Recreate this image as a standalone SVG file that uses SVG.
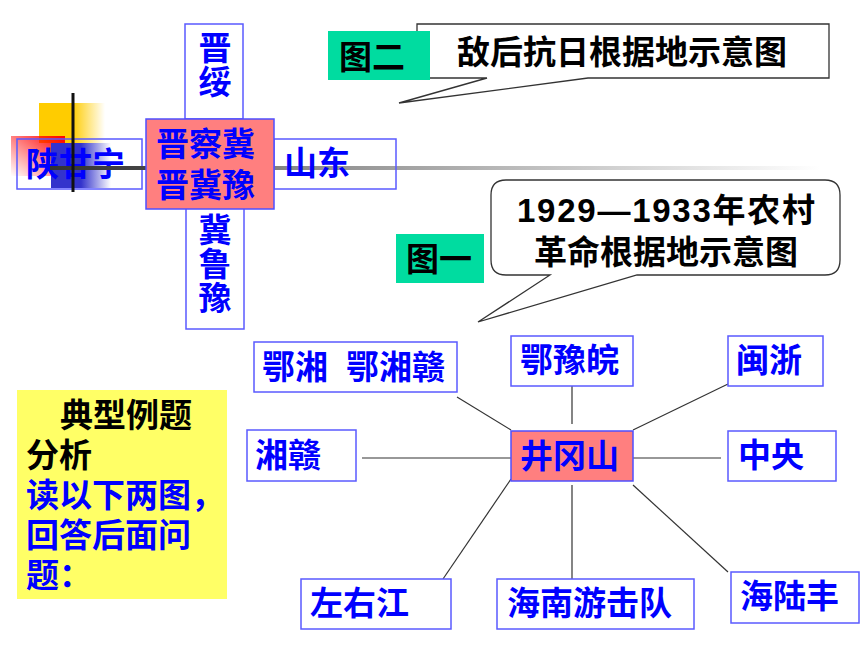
<svg xmlns="http://www.w3.org/2000/svg" width="860" height="645" viewBox="0 0 860 645">
<style>
.box{fill:none;stroke:#5a5aff;stroke-width:1.5}
.bw{fill:#ffffff;stroke:#5a5aff;stroke-width:1.5}
.hot{fill:#ff7f7f;stroke:#4f4fff;stroke-width:1.5}
.t{font-family:"Liberation Sans","Noto Sans CJK SC",sans-serif;font-weight:bold;font-size:33px;fill:#0000ff}
.k{font-family:"Liberation Sans","Noto Sans CJK SC",sans-serif;font-weight:bold;font-size:33px;fill:#000000}
.vt{text-anchor:middle}
.tag{fill:#00dca0}
.con{stroke:#333333;stroke-width:1.2;fill:none}
.call{fill:#ffffff;stroke:#333333;stroke-width:1.3}
</style>
<defs>
<linearGradient id="gy" x1="0" y1="0" x2="1" y2="0">
<stop offset="0" stop-color="#ffcc00"/><stop offset="0.5" stop-color="#ffcc00"/><stop offset="1" stop-color="#ffcc00" stop-opacity="0"/>
</linearGradient>
<linearGradient id="gr" x1="1" y1="0" x2="0" y2="1">
<stop offset="0" stop-color="#ff0000"/><stop offset="1" stop-color="#ff0000" stop-opacity="0"/>
</linearGradient>
<linearGradient id="gb" x1="0" y1="0" x2="1" y2="0">
<stop offset="0" stop-color="#3333cc"/><stop offset="0.5" stop-color="#3333cc"/><stop offset="1" stop-color="#3333cc" stop-opacity="0"/>
</linearGradient>
<linearGradient id="gl" gradientUnits="userSpaceOnUse" x1="50" y1="0" x2="820" y2="0">
<stop offset="0" stop-color="#333333"/><stop offset="0.12" stop-color="#444444"/><stop offset="0.32" stop-color="#8a8a8a"/><stop offset="1" stop-color="#ffffff"/>
</linearGradient>
</defs>

<g id="decor">
<rect x="39" y="103" width="66" height="40" fill="url(#gy)"/>
<rect x="11" y="136" width="54" height="40" fill="url(#gr)"/>
<rect x="51" y="143" width="60" height="45" fill="url(#gb)"/>
</g>

<g id="n-shaanganning">
<rect class="box" x="17" y="139" width="125" height="50"/>
<text class="t" x="26" y="176">陕甘宁</text>
</g>

<g id="decor-lines">
<line x1="50" y1="168" x2="820" y2="168" stroke="url(#gl)" stroke-width="4"/>
<line x1="73" y1="93" x2="73" y2="192" stroke="#111111" stroke-width="3"/>
</g>

<g id="n-jinsui">
<rect class="bw" x="185" y="24" width="58" height="95"/>
<text class="t vt" x="215" y="60">晋</text>
<text class="t vt" x="215" y="94">绥</text>
</g>

<g id="n-jiluyu">
<rect class="bw" x="186" y="207" width="58" height="122"/>
<text class="t vt" x="215" y="242">冀</text>
<text class="t vt" x="215" y="276">鲁</text>
<text class="t vt" x="215" y="310">豫</text>
</g>

<g id="n-shandong">
<rect class="box" x="274" y="139" width="122" height="50"/>
<text class="t" x="284" y="175">山东</text>
</g>

<g id="n-jinchaji">
<rect class="hot" x="146" y="119" width="128" height="90"/>
<text class="t" x="156" y="156">晋察冀</text>
<text class="t" x="156" y="197">晋冀豫</text>
</g>

<g id="callout-2">
<path class="call" d="M417,24 H829 V78 H588 L399,103 L487,78 H417 Z"/>
<text class="k" x="622" y="64" text-anchor="middle">敌后抗日根据地示意图</text>
</g>
<g id="tag-2">
<rect class="tag" x="328" y="31" width="102" height="49"/>
<text class="k" x="339" y="69">图二</text>
</g>

<g id="callout-1">
<path class="call" stroke="#555555" d="M506,180 H825 Q840,180 840,195 V260 Q840,275 825,275 H637 L478,322 L550,275 H506 Q491,275 491,260 V195 Q491,180 506,180 Z"/>
<text class="k" x="666" y="222" text-anchor="middle" textLength="298" lengthAdjust="spacing">1929—1933年农村</text>
<text class="k" x="666" y="264" text-anchor="middle">革命根据地示意图</text>
</g>
<g id="tag-1">
<rect class="tag" x="396" y="234" width="88" height="49"/>
<text class="k" x="406" y="271">图一</text>
</g>

<g id="note">
<rect x="17" y="390" width="210" height="209" fill="#ffff66"/>
<text class="k" x="60" y="427">典型例题</text>
<text class="k" x="26" y="467">分析</text>
<text class="t" x="26" y="507">读以下两图，</text>
<text class="t" x="26" y="547">回答后面问</text>
<text class="t" x="26" y="587">题：</text>
</g>

<g id="connectors">
<line class="con" x1="457" y1="397" x2="511" y2="430"/>
<line class="con" x1="572" y1="386" x2="572" y2="424"/>
<line class="con" x1="728" y1="384" x2="633" y2="430"/>
<line class="con" x1="362" y1="458" x2="511" y2="458"/>
<line class="con" x1="633" y1="458" x2="721" y2="458"/>
<line class="con" x1="511" y1="479" x2="443" y2="579"/>
<line class="con" x1="572" y1="485" x2="572" y2="579"/>
<line class="con" x1="633" y1="485" x2="728" y2="572"/>
</g>

<g id="n-exiang">
<rect class="bw" x="254" y="342" width="203" height="50"/>
<text class="t" x="262" y="379">鄂湘<tspan x="346">鄂湘赣</tspan></text>
</g>
<g id="n-eyuwan">
<rect class="bw" x="511" y="336" width="122" height="50"/>
<text class="t" x="520" y="372">鄂豫皖</text>
</g>
<g id="n-minzhe">
<rect class="bw" x="728" y="336" width="95" height="50"/>
<text class="t" x="736" y="372">闽浙</text>
</g>
<g id="n-xianggan">
<rect class="bw" x="247" y="430" width="109" height="51"/>
<text class="t" x="255" y="467">湘赣</text>
</g>
<g id="n-jinggangshan">
<rect class="hot" x="511" y="431" width="122" height="50"/>
<text class="t" x="520" y="468">井冈山</text>
</g>
<g id="n-zhongyang">
<rect class="bw" x="728" y="431" width="108" height="50"/>
<text class="t" x="738" y="467">中央</text>
</g>
<g id="n-zuoyoujiang">
<rect class="bw" x="301" y="579" width="150" height="50"/>
<text class="t" x="310" y="615">左右江</text>
</g>
<g id="n-hainan">
<rect class="bw" x="497" y="579" width="197" height="50"/>
<text class="t" x="507" y="615">海南游击队</text>
</g>
<g id="n-hailufeng">
<rect class="bw" x="731" y="572" width="128" height="51"/>
<text class="t" x="740" y="608">海陆丰</text>
</g>
</svg>
